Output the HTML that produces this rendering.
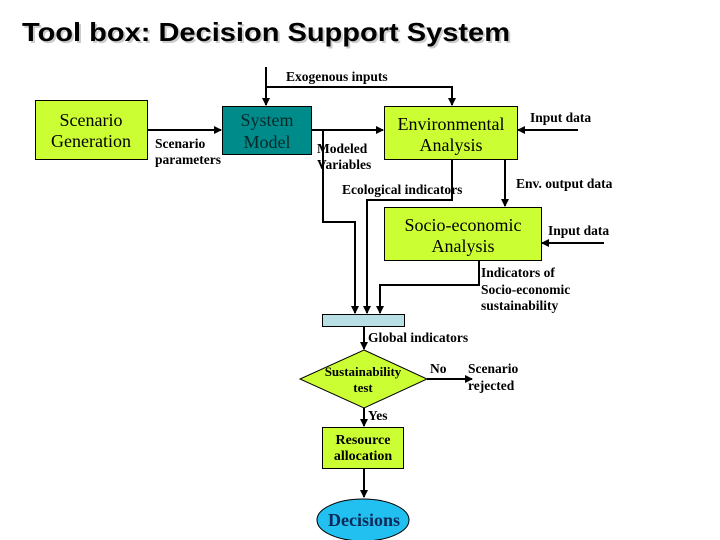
<!DOCTYPE html>
<html><head><meta charset="utf-8"><style>
html,body{margin:0;padding:0;background:#fff;}
svg{display:block;}
text{font-family:"Liberation Serif",serif;fill:#000;}
.s{font-size:13.5px;font-weight:bold;}
.b{font-size:18px;}
</style></head><body>
<svg width="720" height="540" viewBox="0 0 720 540" xmlns="http://www.w3.org/2000/svg">
<defs>
<marker id="a" markerWidth="8" markerHeight="8" refX="7" refY="4" orient="auto" markerUnits="userSpaceOnUse">
<path d="M0,0 L8,4 L0,8 z" fill="#000"/></marker>
</defs>
<text x="24" y="43" style="font-family:'Liberation Sans',sans-serif;font-weight:bold;font-size:26px;fill:#ccc" textLength="488" lengthAdjust="spacingAndGlyphs">Tool box: Decision Support System</text>
<text x="22" y="41" style="font-family:'Liberation Sans',sans-serif;font-weight:bold;font-size:26px" textLength="488" lengthAdjust="spacingAndGlyphs">Tool box: Decision Support System</text>

<g stroke="#000" stroke-width="2" fill="none">
<path d="M266,67 V105" marker-end="url(#a)"/>
<path d="M266,87 H452 V105" marker-end="url(#a)"/>
<path d="M148,130 H221" marker-end="url(#a)"/>
<path d="M311,130 H383" marker-end="url(#a)"/>
<path d="M578,130 H518" marker-end="url(#a)"/>
<path d="M604,243 H542" marker-end="url(#a)"/>
<path d="M323,130 V222 H355 V313" marker-end="url(#a)"/>
<path d="M452,159 V200 H367 V313" marker-end="url(#a)"/>
<path d="M505,159 V206" marker-end="url(#a)"/>
<path d="M479,260 V285 H380 V313" marker-end="url(#a)"/>
<path d="M364,326 V349" marker-end="url(#a)"/>
<path d="M427,379 H472" marker-end="url(#a)"/>
<path d="M364,408 V426" marker-end="url(#a)"/>
<path d="M364,468 V497" marker-end="url(#a)"/>
</g>

<rect x="35.5" y="100.5" width="112" height="59" fill="#ccff33" stroke="#000"/>
<rect x="222.5" y="106.5" width="89" height="48" fill="#008b8b" stroke="#000"/>
<rect x="384.5" y="106.5" width="133" height="53" fill="#ccff33" stroke="#000"/>
<rect x="384.5" y="207.5" width="157" height="53" fill="#ccff33" stroke="#000"/>
<rect x="322.5" y="314.5" width="82" height="12" fill="#b8dfe3" stroke="#000"/>
<path d="M364,350 L427,379 L364,408 L300,379 Z" fill="#ccff33" stroke="#000"/>
<rect x="322.5" y="427.5" width="81" height="41" fill="#ccff33" stroke="#000"/>
<ellipse cx="363" cy="520" rx="46" ry="21" fill="#22c0f0" stroke="#000"/>

<g class="b" text-anchor="middle">
<text x="91" y="126">Scenario</text><text x="91" y="147">Generation</text>
<text x="267" y="126" style="fill:#082828">System</text><text x="267" y="148" style="fill:#082828">Model</text>
<text x="451" y="130">Environmental</text><text x="451" y="151">Analysis</text>
<text x="463" y="231">Socio-economic</text><text x="463" y="252">Analysis</text>
</g>
<text x="364" y="526" text-anchor="middle" style="font-size:18px;font-weight:bold;fill:#0a2a5a">Decisions</text>
<g class="s" text-anchor="middle">
<text x="363" y="376" style="font-size:13px">Sustainability</text>
<text x="363" y="392" style="font-size:13px">test</text>
<text x="363" y="444" style="font-size:14px">Resource</text>
<text x="363" y="460" style="font-size:14px">allocation</text>
</g>
<g class="s">
<text x="286" y="81">Exogenous inputs</text>
<text x="155" y="148">Scenario</text><text x="155" y="164">parameters</text>
<text x="317" y="153">Modeled</text><text x="317" y="169">Variables</text>
<text x="342" y="194">Ecological indicators</text>
<text x="530" y="122">Input data</text>
<text x="516" y="188">Env. output data</text>
<text x="548" y="235">Input data</text>
<text x="481" y="277">Indicators of</text>
<text x="481" y="294">Socio-economic</text>
<text x="481" y="310">sustainability</text>
<text x="368" y="342">Global indicators</text>
<text x="430" y="373">No</text>
<text x="468" y="373">Scenario</text>
<text x="468" y="390">rejected</text>
<text x="368" y="420">Yes</text>
</g>
</svg>
</body></html>
